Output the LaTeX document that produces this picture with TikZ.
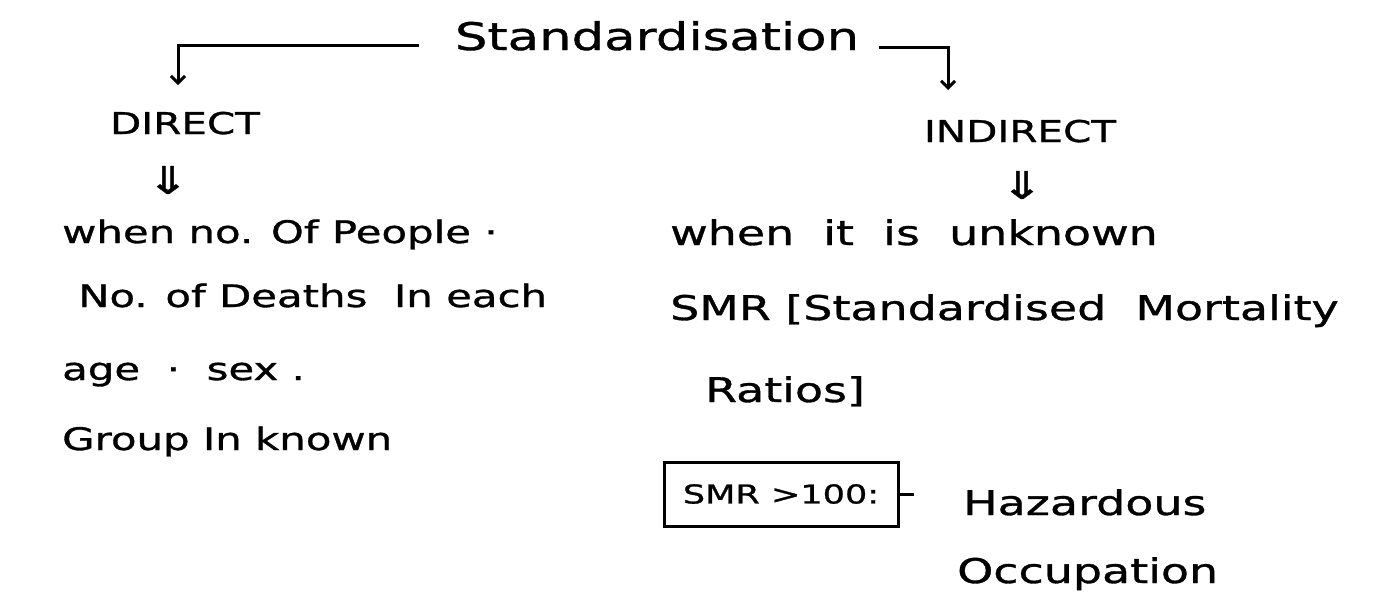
\documentclass[tikz,border=0pt]{standalone}
\usepackage{fontspec}
\setmainfont{DejaVu Sans}[FakeStretch=1.35, FakeBold=1]
\usepackage{tikz}
\usetikzlibrary{arrows.meta,positioning}
\newcommand{\bigtxt}{\fontsize{34}{40}\selectfont}
\newcommand{\lefttxt}{\fontsize{31}{36}\selectfont}
\newcommand{\toptxt}{\fontsize{38}{44}\selectfont}
\newcommand{\captxt}{\fontsize{30}{34}\selectfont}
\newcommand{\boxtxt}{\fontsize{26}{30}\selectfont}

\begin{document}
\begin{tikzpicture}[x=1pt, y=-1pt,
  >={Straight Barb[length=7pt,width=14pt]},
  title/.style ={inner sep=0pt, anchor=base, font=\toptxt},
  branch/.style={inner sep=0pt, anchor=base, font=\captxt},
  note/.style  ={inner sep=0pt, anchor=base west, font=\bigtxt},
  lnote/.style ={note, font=\lefttxt},
  dn/.style    ={inner sep=0pt, font=\fontsize{38}{40}\selectfont},
  smrbox/.style={draw, line width=3pt, inner sep=0pt, minimum width=234pt,
                 minimum height=64pt, font=\boxtxt},
  wire/.style  ={line width=3pt}]
\useasboundingbox (0,0) rectangle (1389,614);
% heading and the two branches
\node[title]  (std)   at (657,50)  {Standardisation};
\node[branch] (dir)   at (185,134) {DIRECT};
\node[branch] (indir) at (1020,142) {INDIRECT};
\coordinate (ltip) at (178,85);
\coordinate (rtip) at (948,90);
\draw[wire,->] ([xshift=-36pt,yshift=5pt]std.base west) -| (ltip);
\draw[wire,->] ([xshift=20pt,yshift=3pt]std.base east) -| (rtip);
\node[dn] (ldn) at (168,180) {⇓};
\node[dn] (rdn) at (1022,185) {⇓};
% direct
\node[lnote] (d1) at (62,243)  {when no. Of People ·};
\node[lnote] (d2) at (78,307)  {No. of Deaths \ In each};
\node[lnote] (d3) at (62,380)  {age \ · \ sex .};
\node[lnote] (d4) at (62,450)  {Group In known};
% indirect
\node[note] (i1) at (670,245) {when \ it \ is \ unknown};
\node[note] (i2) at (670,320) {SMR [Standardised \ Mortality};
\node[note] (i3) at (705,402) {Ratios]};
\node[smrbox] (smr) at (781,494) {SMR >100:};
\draw[wire] (smr.east) -- ++(14,0);
\node[note] (haz) at (963,515) {Hazardous};
\node[note] (occ) at (957,583) {Occupation};
\end{tikzpicture}
\end{document}
